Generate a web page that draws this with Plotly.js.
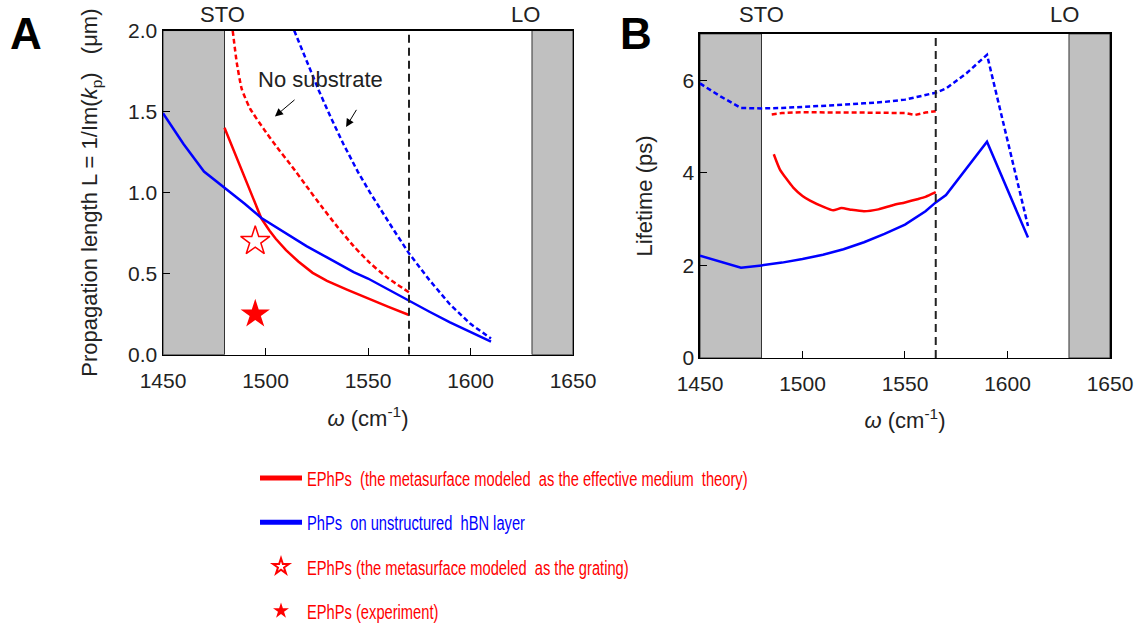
<!DOCTYPE html>
<html>
<head>
<meta charset="utf-8">
<script src="https://cdn.plot.ly/plotly-3.0.1.min.js"></script>
<style>html,body{margin:0;padding:0;background:#fff;}#chart{width:1143px;height:632px;}</style>
</head>
<body>
<div id="chart"></div>
<script>
// ---------- Panel A: propagation length (um) ----------
const aBlueSolidX = [1450,1460,1470,1480,1490,1498,1510,1520,1530,1543,1550,1560,1570,1580,1590,1600,1610];
const aBlueSolidY = [1.49,1.30,1.13,1.03,0.93,0.843,0.75,0.67,0.60,0.51,0.47,0.40,0.335,0.265,0.20,0.14,0.08];
const aRedSolidX = [1480,1490,1498,1502,1505,1510,1516,1523,1530,1540,1552,1560,1570];
const aRedSolidY = [1.40,1.09,0.84,0.765,0.715,0.645,0.575,0.505,0.455,0.40,0.335,0.295,0.245];
const aRedDashX = [1484,1486,1488.4,1492.4,1499,1505,1513,1520,1527,1535,1543,1551,1560,1570];
const aRedDashY = [2.0,1.80,1.64,1.52,1.395,1.29,1.16,1.04,0.92,0.79,0.67,0.565,0.47,0.385];
const aBlueDashX = [1514,1520,1526,1532,1538,1545,1551,1562,1570,1580,1590,1600,1610];
const aBlueDashY = [2.0,1.81,1.63,1.46,1.30,1.13,1.0,0.78,0.625,0.46,0.31,0.19,0.10];
const starGratingX = [1495], starGratingY = [0.70];
const starExpX = [1495], starExpY = [0.25];

// ---------- Panel B: lifetime (ps) ----------
const bBlueDashX = [1450,1460,1470,1480,1490,1500,1510,1520,1530,1540,1550,1560,1565,1570,1580,1590,1600,1610];
const bBlueDashY = [5.93,5.65,5.40,5.39,5.40,5.42,5.44,5.47,5.50,5.53,5.58,5.67,5.73,5.82,6.15,6.55,4.72,2.85];
const bRedDashX = [1485,1490,1500,1510,1520,1530,1540,1550,1555,1560,1565];
const bRedDashY = [5.26,5.29,5.31,5.30,5.30,5.30,5.30,5.29,5.25,5.30,5.33];
const bRedSolidX = [1486,1489,1495.5,1500,1503.7,1510,1515,1519,1524,1530,1537,1544,1550,1556,1560,1565];
const bRedSolidY = [4.40,4.07,3.68,3.50,3.40,3.27,3.19,3.24,3.20,3.17,3.21,3.30,3.36,3.43,3.48,3.58];
const bBlueSolidX = [1450,1460,1470,1480,1490,1500,1510,1520,1530,1540,1550,1560,1565,1570,1590,1610];
const bBlueSolidY = [2.21,2.08,1.95,2.00,2.06,2.14,2.23,2.35,2.50,2.68,2.88,3.17,3.36,3.52,4.67,2.60];

// band / marker values
const stoBand = [1450, 1480];
const loBand = [1630, 1650];
const cutoffA = 1570, cutoffB = 1565;

const legendNames = [
  '<span style="color:#ff0000">EPhPs  (the metasurface modeled  as the effective medium  theory)</span>',
  '<span style="color:#0000ff">PhPs  on unstructured  hBN layer</span>',
  '<span style="color:#ff0000">EPhPs (the metasurface modeled  as the grating)</span>',
  '<span style="color:#ff0000">EPhPs (experiment)</span>'
];

const RED = '#ff0000', BLUE = '#0000ff';
const FONT = 'Liberation Sans, Arial, sans-serif';
const DASH = '5px,3px';

const traces = [
  {x:aBlueDashX, y:aBlueDashY, xaxis:'x', yaxis:'y', mode:'lines', line:{color:BLUE, width:2.5, dash:DASH}, showlegend:false},
  {x:aRedDashX, y:aRedDashY, xaxis:'x', yaxis:'y', mode:'lines', line:{color:RED, width:2.5, dash:DASH, shape:'spline', smoothing:0.5}, showlegend:false},
  {x:aRedSolidX, y:aRedSolidY, xaxis:'x', yaxis:'y', mode:'lines', line:{color:RED, width:2.5}, name:legendNames[0], legendgroup:'g1', showlegend:true},
  {x:aBlueSolidX, y:aBlueSolidY, xaxis:'x', yaxis:'y', mode:'lines', line:{color:BLUE, width:2.5}, name:legendNames[1], legendgroup:'g2', showlegend:true},
  {x:starGratingX, y:starGratingY, xaxis:'x', yaxis:'y', mode:'markers', marker:{symbol:'star-open', size:22, color:RED, line:{color:RED, width:1.5}}, name:legendNames[2], legendgroup:'g3', showlegend:true},
  {x:starExpX, y:starExpY, xaxis:'x', yaxis:'y', mode:'markers', marker:{symbol:'star', size:22, color:RED, line:{width:0}}, name:legendNames[3], legendgroup:'g4', showlegend:true},
  {x:bBlueDashX, y:bBlueDashY, xaxis:'x2', yaxis:'y2', mode:'lines', line:{color:BLUE, width:2.5, dash:DASH}, showlegend:false},
  {x:bRedDashX, y:bRedDashY, xaxis:'x2', yaxis:'y2', mode:'lines', line:{color:RED, width:2.5, dash:DASH}, showlegend:false},
  {x:bRedSolidX, y:bRedSolidY, xaxis:'x2', yaxis:'y2', mode:'lines', line:{color:RED, width:2.5, shape:'spline', smoothing:0.5}, showlegend:false},
  {x:bBlueSolidX, y:bBlueSolidY, xaxis:'x2', yaxis:'y2', mode:'lines', line:{color:BLUE, width:2.5}, showlegend:false}
];

function band(xr, yr, x0, x1, y0, y1){
  return {type:'rect', xref:xr, yref:yr, x0:x0, x1:x1, y0:y0, y1:y1, fillcolor:'#c0c0c0', line:{color:'#333', width:1}, layer:'below'};
}
function vline(xr, yr, x, y0, y1){
  return {type:'line', xref:xr, yref:yr, x0:x, x1:x, y0:y0, y1:y1, line:{color:'#222', width:2, dash:'8px,5px'}, layer:'above'};
}

const axisCommon = {
  showgrid:false, zeroline:false, showline:true, linecolor:'#000', linewidth:1.5, mirror:true,
  ticks:'inside', ticklen:7, tickwidth:1, tickcolor:'#000',
  tickfont:{family:FONT, size:21, color:'#222'}, fixedrange:true
};
const TF = {family:FONT, size:22, color:'#222'};

const layout = {
  width:1143, height:632,
  margin:{l:0, r:0, t:0, b:0},
  paper_bgcolor:'#fff', plot_bgcolor:'#fff',
  font:{family:FONT, color:'#222'},
  showlegend:true,
  legend:{x:255/1143, y:0.258, xanchor:'left', yanchor:'top', traceorder:'grouped', tracegroupgap:14, itemwidth:42,
          font:{family:FONT, size:21}, bgcolor:'rgba(0,0,0,0)', itemsizing:'constant'},
  xaxis: Object.assign({}, axisCommon, {domain:[0.14261,0.50131], anchor:'y', range:[1450,1650], tickvals:[1450,1500,1550,1600,1650], ticklabelstandoff:7,
          title:{text:'<i>ω</i> (cm<sup>-1</sup>)', font:TF, standoff:19}}),
  yaxis: Object.assign({}, axisCommon, {domain:[0.42516,0.95047], anchor:'x', range:[0,2], tickvals:[0,0.5,1,1.5,2], tickformat:'.1f',
          title:{text:'Propagation length L = 1/Im(<i>k</i><sub>p</sub>)&nbsp;&nbsp;&nbsp;(μm)', font:TF, standoff:24}}),
  xaxis2: Object.assign({}, axisCommon, {domain:[0.61242,0.97113], anchor:'y2', range:[1450,1650], tickvals:[1450,1500,1550,1600,1650], ticklabelstandoff:6,
          title:{text:'<i>ω</i> (cm<sup>-1</sup>)', font:TF, standoff:19}}),
  yaxis2: Object.assign({}, axisCommon, {domain:[0.41978,0.94509], anchor:'x2', range:[0,7], tickvals:[0,2,4,6],
          title:{text:'Lifetime (ps)', font:TF, standoff:24}}),
  shapes:[
    band('x','y', stoBand[0], stoBand[1], 0, 2),
    band('x','y', loBand[0], loBand[1], 0, 2),
    vline('x','y', cutoffA, 0, 2),
    band('x2','y2', stoBand[0], stoBand[1], 0, 7),
    band('x2','y2', loBand[0], loBand[1], 0, 7),
    vline('x2','y2', cutoffB, 0, 7)
  ],
  annotations:[
    {text:'<b>A</b>', xref:'paper', yref:'paper', x:26/1143, y:1-34/632, xanchor:'center', yanchor:'middle', showarrow:false, font:{family:FONT, size:44, color:'#000'}},
    {text:'<b>B</b>', xref:'paper', yref:'paper', x:636/1143, y:1-34/632, xanchor:'center', yanchor:'middle', showarrow:false, font:{family:FONT, size:44, color:'#000'}},
    {text:'STO', xref:'x', yref:'paper', x:1479, y:1-15/632, xanchor:'center', yanchor:'middle', showarrow:false, font:TF},
    {text:'LO', xref:'x', yref:'paper', x:1627, y:1-15/632, xanchor:'center', yanchor:'middle', showarrow:false, font:TF},
    {text:'STO', xref:'x2', yref:'paper', x:1480, y:1-15/632, xanchor:'center', yanchor:'middle', showarrow:false, font:TF},
    {text:'LO', xref:'x2', yref:'paper', x:1628, y:1-15/632, xanchor:'center', yanchor:'middle', showarrow:false, font:TF},
    {text:'No substrate', xref:'x', yref:'y', x:1527, y:1.70, xanchor:'center', yanchor:'middle', showarrow:false, font:TF},
    {text:'', xref:'x', yref:'y', x:1504.6, y:1.47, axref:'x', ayref:'y', ax:1514.9, ay:1.58, showarrow:true, arrowhead:2, arrowsize:1.6, arrowwidth:1, arrowcolor:'#000'},
    {text:'', xref:'x', yref:'y', x:1539.3, y:1.405, axref:'x', ayref:'y', ax:1544.8, ay:1.52, showarrow:true, arrowhead:2, arrowsize:1.6, arrowwidth:1, arrowcolor:'#000'}
  ]
};

Plotly.newPlot('chart', traces, layout, {staticPlot:true, displayModeBar:false}).then(function(gd){
  // reference legend uses a condensed face: squeeze legend text horizontally
  gd.querySelectorAll('.legendtext').forEach(function(t){
    t.style.transformBox = 'fill-box';
    t.style.transformOrigin = 'left center';
    t.style.transform = 'scaleX(0.70)';
  });
});
</script>
</body>
</html>
